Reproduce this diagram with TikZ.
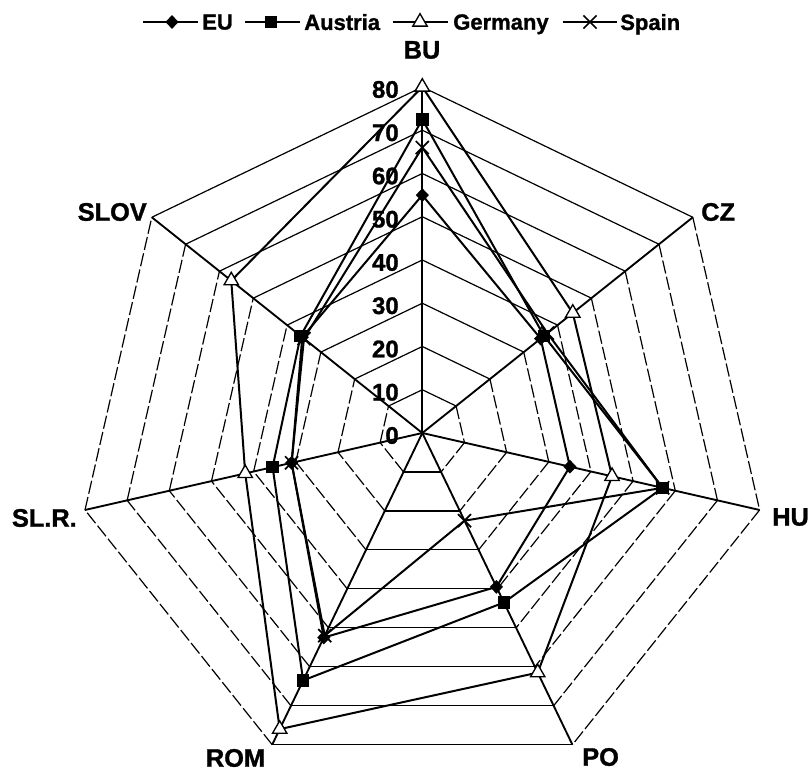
\documentclass[tikz,border=0pt]{standalone}
\usepackage{fontspec}
\setmainfont{Liberation Sans}[BoldFeatures={FakeBold=1.2}]
\usetikzlibrary{shapes.geometric,shapes.misc}
\begin{document}
\begin{tikzpicture}[x=0.75pt,y=0.75pt,
  gridline/.style={line width=0.9pt},
  gridbroken/.style={gridline, dash pattern=on 10pt off 2.5pt},
  spoke/.style={line width=1.4pt},
  series/.style={line width=1.5pt, line join=round},
  mdiam/.style={diamond, fill=black, inner sep=0pt, minimum width=10pt, minimum height=10.5pt},
  msq/.style={rectangle, fill=black, inner sep=0pt, minimum size=9.5pt},
  mtri/.style={regular polygon, regular polygon sides=3, draw=black, fill=white, line width=1pt, inner sep=0pt, minimum size=12.5pt},
  mx/.style={cross out, draw=black, line width=1.3pt, inner sep=0pt, minimum size=8.5pt},
  axlabel/.style={font=\fontsize{19pt}{22pt}\selectfont\bfseries, inner sep=0pt},
  ticklabel/.style={font=\fontsize{18pt}{21pt}\selectfont\bfseries, inner sep=0pt, anchor=east},
  legtext/.style={font=\fontsize{16.5pt}{19pt}\selectfont\bfseries, inner sep=0pt, anchor=west, text depth=0pt},
]
\useasboundingbox (0,0) rectangle (809,774);

% centre of the radar and outer (80) radius in px
\coordinate (C) at (422.3,341);
\def\R{346}
\def\u{4.325}

% grid polygons 10..80: shallow edges solid, steep edges broken
\foreach \k in {1,...,8}{
  \foreach \i/\s in {0/gridline,1/gridbroken,2/gridbroken,3/gridline,4/gridbroken,5/gridbroken,6/gridline}{
    \pgfmathsetmacro\angA{90-\i*360/7}
    \pgfmathsetmacro\angB{90-\i*360/7-360/7}
    \pgfmathsetmacro\rad{\k*43.25}
    \draw[\s] ([shift={(C)}]\angA:\rad) -- ([shift={(C)}]\angB:\rad);
  }
}

% spokes
\foreach \i in {0,...,6}{
  \pgfmathsetmacro\angA{90-\i*360/7}
  \coordinate (ax\i) at ([shift={(C)}]\angA:\R);
  \draw[spoke] (C) -- (ax\i);
}

% scale labels along the BU spoke
\foreach \v in {0,10,...,80}{
  \pgfmathsetmacro\ty{341+\v*\u-2.5}
  \node[ticklabel] (t\v) at (399,\ty) {\v};
}

% category labels
\node[axlabel] (lbu) at (422,724) {BU};
\node[axlabel, anchor=west] (lcz) at (701,562) {CZ};
\node[axlabel, anchor=west] (lhu) at (772,257) {HU};
\node[axlabel, anchor=west] (lpo) at (582,17) {PO};
\node[axlabel] (lrom) at (235.5,16) {ROM};
\node[axlabel, anchor=east] (lslr) at (77,256) {SL.R.};
\node[axlabel, anchor=east] (lslov) at (147,562) {SLOV};

% data points: BU, CZ, HU, PO, ROM, SL.R., SLOV
\foreach \v [count=\i from 0] in {55,35,35,39.5,52.5,31,35.5}{
  \pgfmathsetmacro\angA{90-\i*360/7}\pgfmathsetmacro\rad{\v*\u}
  \coordinate (eu\i) at ([shift={(C)}]\angA:\rad);}
\foreach \v [count=\i from 0] in {72.5,36,57,43.5,63.5,35.5,36}{
  \pgfmathsetmacro\angA{90-\i*360/7}\pgfmathsetmacro\rad{\v*\u}
  \coordinate (at\i) at ([shift={(C)}]\angA:\rad);}
\foreach \v [count=\i from 0] in {80,44.5,45,61.5,76,42,56.5}{
  \pgfmathsetmacro\angA{90-\i*360/7}\pgfmathsetmacro\rad{\v*\u}
  \coordinate (de\i) at ([shift={(C)}]\angA:\rad);}
\foreach \v [count=\i from 0] in {66,37,57,22.5,52,31,35}{
  \pgfmathsetmacro\angA{90-\i*360/7}\pgfmathsetmacro\rad{\v*\u}
  \coordinate (es\i) at ([shift={(C)}]\angA:\rad);}

\draw[series] (eu0) -- (eu1) -- (eu2) -- (eu3) -- (eu4) -- (eu5) -- (eu6) -- cycle;
\draw[series] (at0) -- (at1) -- (at2) -- (at3) -- (at4) -- (at5) -- (at6) -- cycle;
\draw[series] (de0) -- (de1) -- (de2) -- (de3) -- (de4) -- (de5) -- (de6) -- cycle;
\draw[series] (es0) -- (es1) -- (es2) -- (es3) -- (es4) -- (es5) -- (es6) -- cycle;

\foreach \i in {0,...,6}{
  \node[mdiam] (meu\i) at (eu\i) {};
  \node[msq] (mat\i) at (at\i) {};
  \node[mtri] (mde\i) at (de\i) {};
  \node[mx] (mes\i) at (es\i) {};
}

% legend
\coordinate (la1) at (143,752); \coordinate (lb1) at (198,752);
\coordinate (la2) at (245,752); \coordinate (lb2) at (300,752);
\coordinate (la3) at (393,752); \coordinate (lb3) at (448,752);
\coordinate (la4) at (563,752); \coordinate (lb4) at (617,752);
\draw[series] (la1) -- (lb1);
\draw[series] (la2) -- (lb2);
\draw[series] (la3) -- (lb3);
\draw[series] (la4) -- (lb4);
\node[mdiam] (leu) at (172,752) {};
\node[msq] (lat) at (271,752) {};
\node[mtri] (lde) at (420,752) {};
\node[mx] (les) at (590,752) {};
\node[legtext] (teu) at (202,752) {EU};
\node[legtext] (tat) at (304,752) {Austria};
\node[legtext] (tde) at (453,752) {Germany};
\node[legtext] (tes) at (620,752) {Spain};
\end{tikzpicture}
\end{document}
